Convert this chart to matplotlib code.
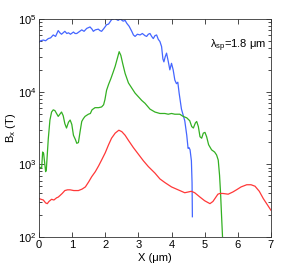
import matplotlib
matplotlib.use("Agg")
import matplotlib.pyplot as plt
import numpy as np

# ── Data (x in µm, log10 of B_x in T) ─────────────────────────────────────────
blue_x = [0.0, 0.05, 0.13, 0.2, 0.28, 0.35, 0.43, 0.5, 0.58, 0.63, 0.68, 0.73,
          0.78, 0.84, 0.89, 0.95, 1.04, 1.09, 1.14, 1.2, 1.29, 1.36, 1.44, 1.54,
          1.6, 1.64, 1.7, 1.79, 1.84, 1.89, 1.96, 2.04, 2.1, 2.19, 2.29, 2.35,
          2.39, 2.45, 2.54, 2.6, 2.65, 2.72, 2.8, 2.85, 2.9, 2.97, 3.05, 3.12,
          3.2, 3.25, 3.3, 3.35, 3.4, 3.45, 3.5, 3.55, 3.6, 3.65, 3.7, 3.74,
          3.77, 3.81, 3.85, 3.9, 3.95, 4.0, 4.05, 4.1, 4.15, 4.19, 4.23, 4.3,
          4.35, 4.4, 4.46, 4.5, 4.53, 4.56, 4.6, 4.62, 4.63]
blue_log = [4.68, 4.70, 4.71, 4.70, 4.73, 4.74, 4.78, 4.76, 4.84, 4.81, 4.79, 4.81,
            4.83, 4.80, 4.81, 4.79, 4.82, 4.80, 4.80, 4.82, 4.85, 4.83, 4.87, 4.89,
            4.86, 4.83, 4.85, 4.86, 4.84, 4.83, 4.87, 4.92, 4.93, 4.99, 5.01, 4.99,
            4.98, 5.00, 4.97, 4.98, 4.94, 4.90, 4.83, 4.78, 4.76, 4.79, 4.78, 4.80,
            4.77, 4.76, 4.79, 4.80, 4.76, 4.73, 4.77, 4.78, 4.72, 4.69, 4.62, 4.45,
            4.41, 4.48, 4.53, 4.42, 4.30, 4.39, 4.30, 4.16, 4.11, 4.13, 3.98, 3.76,
            3.68, 3.60, 3.40, 3.22, 3.23, 3.20, 3.05, 2.75, 2.28]

green_x = [0.03, 0.08, 0.11, 0.14, 0.2, 0.22, 0.28, 0.33, 0.38, 0.43, 0.48, 0.53,
           0.58, 0.63, 0.68, 0.73, 0.78, 0.83, 0.89, 0.94, 0.99, 1.04, 1.1, 1.14,
           1.19, 1.24, 1.29, 1.34, 1.39, 1.49, 1.55, 1.6, 1.69, 1.8, 1.89, 1.95,
           1.99, 2.04, 2.1, 2.17, 2.24, 2.3, 2.36, 2.42, 2.47, 2.53, 2.6, 2.7,
           2.8, 2.9, 3.0, 3.1, 3.2, 3.35, 3.5, 3.65, 3.8, 3.9, 4.0, 4.1, 4.25,
           4.35, 4.46, 4.55, 4.61, 4.66, 4.72, 4.76, 4.81, 4.86, 4.91, 4.96, 5.01,
           5.06, 5.12, 5.21, 5.3, 5.36, 5.41, 5.45, 5.48, 5.51, 5.55]
green_log = [2.96, 2.95, 3.17, 3.15, 2.90, 2.92, 3.35, 3.61, 3.72, 3.75, 3.74, 3.70,
             3.66, 3.69, 3.72, 3.67, 3.56, 3.50, 3.58, 3.61, 3.55, 3.40, 3.34, 3.29,
             3.30, 3.45, 3.59, 3.63, 3.66, 3.69, 3.70, 3.75, 3.78, 3.78, 3.79, 3.82,
             3.89, 4.02, 4.10, 4.18, 4.27, 4.35, 4.45, 4.55, 4.50, 4.38, 4.25, 4.12,
             4.05, 3.98, 3.93, 3.88, 3.84, 3.76, 3.72, 3.70, 3.70, 3.69, 3.70, 3.69, 3.69,
             3.66, 3.64, 3.60, 3.52, 3.50, 3.57, 3.59, 3.52, 3.38, 3.36, 3.43, 3.44,
             3.38, 3.27, 3.20, 3.17, 3.13, 3.06, 2.85, 2.61, 2.30, 1.90]

red_x = [0.0, 0.06, 0.13, 0.2, 0.25, 0.3, 0.38, 0.45, 0.53, 0.58, 0.63, 0.7,
         0.78, 0.86, 0.94, 1.05, 1.19, 1.3, 1.4, 1.5, 1.59, 1.7, 1.8, 1.89, 2.0,
         2.1, 2.19, 2.3, 2.41, 2.5, 2.6, 2.7, 2.85, 3.0, 3.15, 3.3, 3.5, 3.65,
         3.8, 4.0, 4.2, 4.4, 4.5, 4.6, 4.7, 4.86, 5.0, 5.16, 5.25, 5.31, 5.4,
         5.46, 5.55, 5.71, 5.85, 5.96, 6.1, 6.27, 6.4, 6.52, 6.65, 6.77, 6.9, 7.0]
red_log = [2.53, 2.52, 2.51, 2.47, 2.46, 2.49, 2.52, 2.51, 2.54, 2.55, 2.57, 2.60,
           2.64, 2.65, 2.65, 2.64, 2.64, 2.66, 2.69, 2.76, 2.83, 2.90, 2.98, 3.06, 3.16,
           3.27, 3.36, 3.43, 3.47, 3.45, 3.40, 3.33, 3.23, 3.14, 3.05, 2.97, 2.88, 2.80,
           2.75, 2.69, 2.65, 2.61, 2.62, 2.63, 2.61, 2.55, 2.50, 2.46, 2.49, 2.53, 2.59,
           2.60, 2.60, 2.59, 2.62, 2.65, 2.69, 2.72, 2.72, 2.70, 2.63, 2.53, 2.44, 2.37]

x_ticks = [0, 1, 2, 3, 4, 5, 6, 7]

BLUE = "#4466ff"
GREEN = "#33b022"
RED = "#ff3838"

plt.rcParams.update({
    "font.family": ["Liberation Sans", "DejaVu Sans"],
    "font.size": 8,
    "mathtext.fontset": "custom",
    "mathtext.rm": "Liberation Sans",
    "mathtext.it": "Liberation Sans:italic",
})

fig = plt.figure(figsize=(3.0, 2.67), dpi=100)
ax = fig.add_axes([0.13, 0.112, 0.773, 0.817])

ax.plot(blue_x, 10 ** np.array(blue_log), color=BLUE, lw=0.9)
ax.plot(green_x, 10 ** np.array(green_log), color=GREEN, lw=0.9)
ax.plot(red_x, 10 ** np.array(red_log), color=RED, lw=0.9)

ax.set_yscale("log")
ax.set_xlim(0, 7)
ax.set_ylim(1e2, 1e5)
ax.set_xticks(x_ticks)
ax.tick_params(which="both", direction="in", top=True, right=True, width=0.5)
ax.tick_params(which="major", length=3.5, pad=2)
ax.tick_params(which="minor", length=2)
for s in ax.spines.values():
    s.set_linewidth(0.6)
    s.set_color("#333333")

ax.set_xlabel("X (μm)", labelpad=2)
ax.set_ylabel(r"B$_\mathrm{x}$ (T)", labelpad=0)
ax.text(0.737, 0.875, r"λ$_\mathrm{sp}$=1.8 μm", transform=ax.transAxes,
        fontsize=8, va="center")

fig.savefig("out.png", dpi=100)
